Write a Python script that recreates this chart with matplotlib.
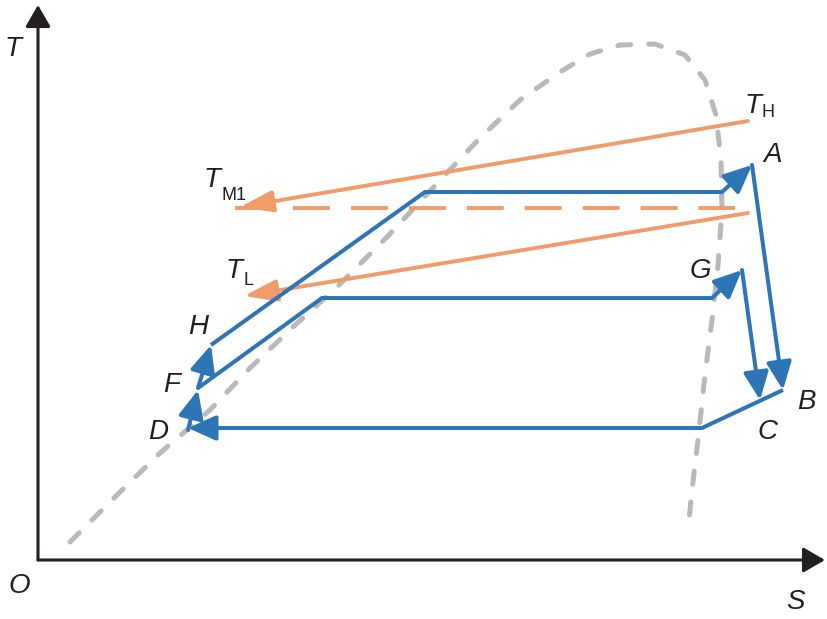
import matplotlib.pyplot as plt

# T-S diagram, arbitrary units (S along x, T along y)
dome_s = [32, 82, 122, 172, 212, 255, 299, 349, 405, 442, 482, 522, 552, 582,
          617, 647, 667, 678, 683, 684, 680, 674, 667, 660, 654, 650]
dome_t = [18, 68, 107, 150, 192, 233, 273, 323, 383, 422, 460, 488, 506, 515,
          516, 505, 480, 445, 400, 350, 295, 240, 185, 120, 70, 30]

# blue cycle paths (last segment carries the arrow)
h_to_a_s = [173, 387, 684, 714]
h_to_a_t = [215, 368, 368, 395]
a_to_b_s = [714, 745]
a_to_b_t = [395, 170]
b_to_d_s = [745, 664, 150]
b_to_d_t = [170, 132, 132]
d_to_f_s = [150, 160]
d_to_f_t = [130, 170]
f_to_h_s = [160, 173]
f_to_h_t = [172, 215]
f_to_g_s = [160, 284, 674, 704]
f_to_g_t = [172, 262, 262, 290]
g_to_c_s = [704, 722]
g_to_c_t = [290, 160]

# orange heat source / sink lines
th_s = [710, 202]
th_t = [439, 353]
tm1_s = [197, 697]
tm1_t = [352, 352]
tl_s = [710, 206]
tl_t = [347, 264]

blue = '#2e75b6'
orange = '#ef9b6a'
gray = '#b8b9bb'
dark = '#231f20'

plt.rcParams['font.family'] = ['Liberation Sans', 'DejaVu Sans']

fig = plt.figure(figsize=(8.28, 6.19), dpi=100)
ax = fig.add_axes([0, 0, 1, 1])
ax.set_xlim(-38, 790)
ax.set_ylim(-59, 560)
ax.axis('off')

# axes with arrow heads
ax_arrow = dict(arrowstyle='-|>,head_length=0.95,head_width=0.55', color=dark,
                lw=2.2, mutation_scale=14, shrinkA=0, shrinkB=0)
ax.annotate('', xy=(0, 555), xytext=(0, 0), arrowprops=ax_arrow)
ax.annotate('', xy=(787, 0), xytext=(0, 0), arrowprops=ax_arrow)

# saturation dome
ax.plot(dome_s, dome_t, color=gray, lw=3.6, dashes=(2.6, 3.6),
        dash_capstyle='round', solid_joinstyle='round', zorder=1)


def arrow_path(s, t, color, lw, scale, hw, z):
    if len(s) > 2:
        ax.plot(s[:-1], t[:-1], color=color, lw=lw, solid_joinstyle='miter',
                solid_capstyle='butt', zorder=z)
    ax.annotate('', xy=(s[-1], t[-1]), xytext=(s[-2], t[-2]),
                arrowprops=dict(arrowstyle='-|>,head_length=1.0,head_width=%g' % hw,
                                color=color, lw=lw, mutation_scale=scale,
                                shrinkA=0, shrinkB=0),
                zorder=z)


# orange lines
arrow_path(th_s, th_t, orange, 2.8, 20, 0.33, 2)
arrow_path(tl_s, tl_t, orange, 2.8, 20, 0.33, 2)
ax.plot(tm1_s, tm1_t, color=orange, lw=2.8, dashes=(9.5, 5.4), zorder=2)

# blue cycle
for s, t in [(h_to_a_s, h_to_a_t), (a_to_b_s, a_to_b_t), (b_to_d_s, b_to_d_t),
             (d_to_f_s, d_to_f_t), (f_to_h_s, f_to_h_t), (f_to_g_s, f_to_g_t),
             (g_to_c_s, g_to_c_t)]:
    arrow_path(s, t, blue, 2.9, 17, 0.45, 3)

# labels
main_fs = 20
sub_fs = 13
letters = [('T', -25, 504), ('O', -19, -33), ('S', 757, -49), ('A', 735, 398),
           ('G', 662, 282), ('H', 160, 226), ('F', 134, 168), ('D', 120, 121),
           ('B', 768, 151), ('C', 729, 121), ('T', 715, 447), ('T', 174, 373),
           ('T', 196, 282)]
for txt, s, t in letters:
    ax.text(s, t, txt, fontsize=main_fs, style='italic', ha='center',
            va='baseline', color=dark)

subs = [('H', 724, 443), ('M1', 184, 360), ('L', 206, 275)]
for txt, s, t in subs:
    ax.text(s, t, txt, fontsize=sub_fs, ha='left', va='baseline', color=dark)

fig.savefig('out.png', dpi=100)
